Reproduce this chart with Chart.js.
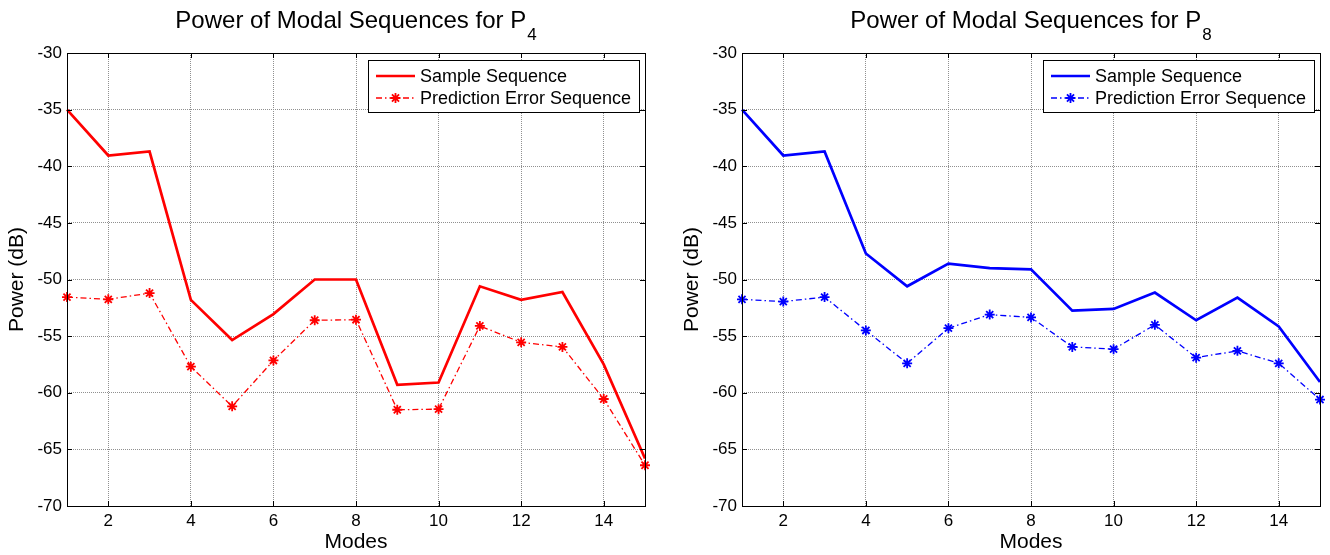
<!DOCTYPE html>
<html>
<head>
<meta charset="utf-8">
<script src="https://cdn.jsdelivr.net/npm/chart.js@4.4.1/dist/chart.umd.min.js"></script>
<style>
  html, body { margin: 0; padding: 0; background: #fff; }
  .bloc { position: absolute; top: 0; width: 665px; height: 555px; }
</style>
</head>
<body>
<div class="bloc" style="left: 0"><canvas id="myChartP4" width="665" height="555"></canvas></div>
<div class="bloc" style="left: 665px"><canvas id="myChartP8" width="665" height="555"></canvas></div>
<script>
//? Données des courbes (puissance en dB par mode).

const modes = [1, 2, 3, 4, 5, 6, 7, 8, 9, 10, 11, 12, 13, 14, 15];
const xTickValues = [2, 4, 6, 8, 10, 12, 14];

const sampleP4 = [-35.0, -39.05, -38.7, -51.8, -55.35, -53.05, -50.0, -50.0, -59.3, -59.1, -50.6, -51.8, -51.1, -57.5, -65.8];
const predErrP4 = [-51.55, -51.75, -51.2, -57.7, -61.2, -57.15, -53.6, -53.55, -61.5, -61.45, -54.1, -55.55, -55.95, -60.55, -66.4];

const sampleP8 = [-35.0, -39.05, -38.7, -47.7, -50.6, -48.6, -49.0, -49.1, -52.75, -52.6, -51.15, -53.6, -51.6, -54.15, -59.05];
const predErrP8 = [-51.75, -51.95, -51.55, -54.5, -57.4, -54.3, -53.1, -53.35, -55.95, -56.15, -54.0, -56.9, -56.3, -57.4, -60.6];

const police = "'Liberation Sans', Arial, sans-serif";

//? -------------------------------------------------

//? Cadre complet + petites graduations intérieures.

const cadre = {
  id: "cadre",
  afterDraw(chart) {
    const { ctx, chartArea, scales } = chart;
    const { left, right, top, bottom } = chartArea;
    ctx.save();
    ctx.strokeStyle = "#000";
    ctx.lineWidth = 1;
    ctx.beginPath();
    scales.x.ticks.forEach((t) => {
      const px = Math.round(scales.x.getPixelForValue(t.value)) + 0.5;
      ctx.moveTo(px, bottom);
      ctx.lineTo(px, bottom - 5);
      ctx.moveTo(px, top);
      ctx.lineTo(px, top + 5);
    });
    scales.y.ticks.forEach((t) => {
      const py = Math.round(scales.y.getPixelForValue(t.value)) + 0.5;
      ctx.moveTo(left, py);
      ctx.lineTo(left + 5, py);
      ctx.moveTo(right, py);
      ctx.lineTo(right - 5, py);
    });
    ctx.stroke();
    ctx.strokeRect(
      Math.round(left) + 0.5,
      Math.round(top) + 0.5,
      Math.round(right - left),
      Math.round(bottom - top)
    );
    ctx.restore();
  },
};

//? Étoile (même forme que le pointStyle "star").

const dessinerEtoile = (ctx, x, y, r) => {
  ctx.beginPath();
  for (let k = 0; k < 4; k++) {
    const a = (k * Math.PI) / 4;
    ctx.moveTo(x - Math.cos(a) * r, y - Math.sin(a) * r);
    ctx.lineTo(x + Math.cos(a) * r, y + Math.sin(a) * r);
  }
  ctx.stroke();
};

//? Légende encadrée dans le coin haut droit.

const legendeInterne = {
  id: "legendeInterne",
  afterDraw(chart) {
    const { ctx, chartArea } = chart;
    const sets = chart.data.datasets;
    ctx.save();
    ctx.font = `18px ${police}`;
    const largeurTexte = Math.max(...sets.map((d) => ctx.measureText(d.label).width));
    const largeur = Math.round(52 + largeurTexte + 8);
    const hauteur = 52;
    const x0 = Math.round(chartArea.right - 6 - largeur);
    const y0 = Math.round(chartArea.top + 7);

    ctx.fillStyle = "#fff";
    ctx.fillRect(x0, y0, largeur, hauteur);
    ctx.strokeStyle = "#000";
    ctx.lineWidth = 1;
    ctx.strokeRect(x0 + 0.5, y0 + 0.5, largeur, hauteur);

    sets.forEach((d, i) => {
      const yy = y0 + 16 + i * 22;
      ctx.strokeStyle = d.borderColor;
      ctx.lineWidth = d.borderWidth;
      ctx.setLineDash(d.borderDash || []);
      ctx.beginPath();
      ctx.moveTo(x0 + 8, yy);
      ctx.lineTo(x0 + 47, yy);
      ctx.stroke();
      ctx.setLineDash([]);
      if (d.pointRadius > 0) {
        ctx.lineWidth = d.pointBorderWidth;
        dessinerEtoile(ctx, x0 + 27.5, yy, d.pointRadius);
      }
      ctx.fillStyle = "#000";
      ctx.textBaseline = "middle";
      ctx.textAlign = "left";
      ctx.fillText(d.label, x0 + 52, yy + 1);
    });
    ctx.restore();
  },
};

//? Titre avec indice (P4, P8).

const titreIndice = {
  id: "titreIndice",
  afterDraw(chart, args, opts) {
    const { ctx, chartArea } = chart;
    const policeTitre = `24px ${police}`;
    const policeIndice = `17px ${police}`;
    ctx.save();
    ctx.font = policeTitre;
    const w1 = ctx.measureText(opts.texte).width;
    ctx.font = policeIndice;
    const w2 = ctx.measureText(opts.indice).width;
    const cx = (chartArea.left + chartArea.right) / 2;
    const x = cx - (w1 + 1 + w2) / 2;
    ctx.fillStyle = "#000";
    ctx.textAlign = "left";
    ctx.textBaseline = "alphabetic";
    ctx.font = policeTitre;
    ctx.fillText(opts.texte, x, 28);
    ctx.font = policeIndice;
    ctx.fillText(opts.indice, x + w1 + 1, 40);
    ctx.restore();
  },
};

//? -------------------------------------------------

//? Construction d'un graphique.

const construireGraphique = (idCanvas, couleur, indice, serieEchantillon, serieErreur, largeurAxeY, paddingDroite, paddingTitreY) => {
  const ctx = document.getElementById(idCanvas).getContext("2d");

  const data = {
    datasets: [
      {
        label: "Sample Sequence",
        data: modes.map((m, i) => ({ x: m, y: serieEchantillon[i] })),
        borderColor: couleur,
        backgroundColor: couleur,
        borderWidth: 2.7,
        pointRadius: 0,
        tension: 0,
        clip: 6,
      },
      {
        label: "Prediction Error Sequence",
        data: modes.map((m, i) => ({ x: m, y: serieErreur[i] })),
        borderColor: couleur,
        backgroundColor: couleur,
        borderWidth: 1.3,
        borderDash: [6, 3, 1.5, 3],
        pointStyle: "star",
        pointRadius: 5,
        pointBorderWidth: 1.8,
        pointBorderColor: couleur,
        tension: 0,
        clip: 8,
      },
    ],
  };

  const grille = { color: "#909090", lineWidth: 1, drawTicks: false };

  const options = {
    responsive: false,
    animation: false,
    layout: { padding: { top: 53, right: paddingDroite, left: 0, bottom: 0 } },
    plugins: {
      legend: { display: false },
      tooltip: { enabled: false },
      titreIndice: { texte: "Power of Modal Sequences for P", indice },
    },
    scales: {
      x: {
        type: "linear",
        min: 1,
        max: 15,
        afterBuildTicks: (scale) => {
          scale.ticks = xTickValues.map((v) => ({ value: v }));
        },
        afterFit: (scale) => {
          scale.height = 49;
        },
        ticks: { color: "#000", font: { size: 17, family: police }, padding: 5, maxRotation: 0, autoSkip: false },
        grid: grille,
        border: { display: false, dash: [1, 1] },
        title: { display: true, text: "Modes", color: "#000", font: { size: 21, family: police }, padding: { top: 0, bottom: 0 } },
      },
      y: {
        min: -70,
        max: -30,
        afterFit: (scale) => {
          scale.width = largeurAxeY;
        },
        ticks: { stepSize: 5, color: "#000", font: { size: 17, family: police }, padding: 5 },
        grid: grille,
        border: { display: false, dash: [1, 1] },
        title: { display: true, text: "Power (dB)", color: "#000", font: { size: 21, family: police }, padding: { top: paddingTitreY, bottom: 0 } },
      },
    },
  };

  new Chart(ctx, {
    type: "line",
    data,
    options,
    plugins: [cadre, legendeInterne, titreIndice],
  });
};

//? -------------------------------------------------

construireGraphique("myChartP4", "#ff0000", "4", sampleP4, predErrP4, 67, 20, 5);
construireGraphique("myChartP8", "#0000ff", "8", sampleP8, predErrP8, 77, 10, 15);
</script>
</body>
</html>
